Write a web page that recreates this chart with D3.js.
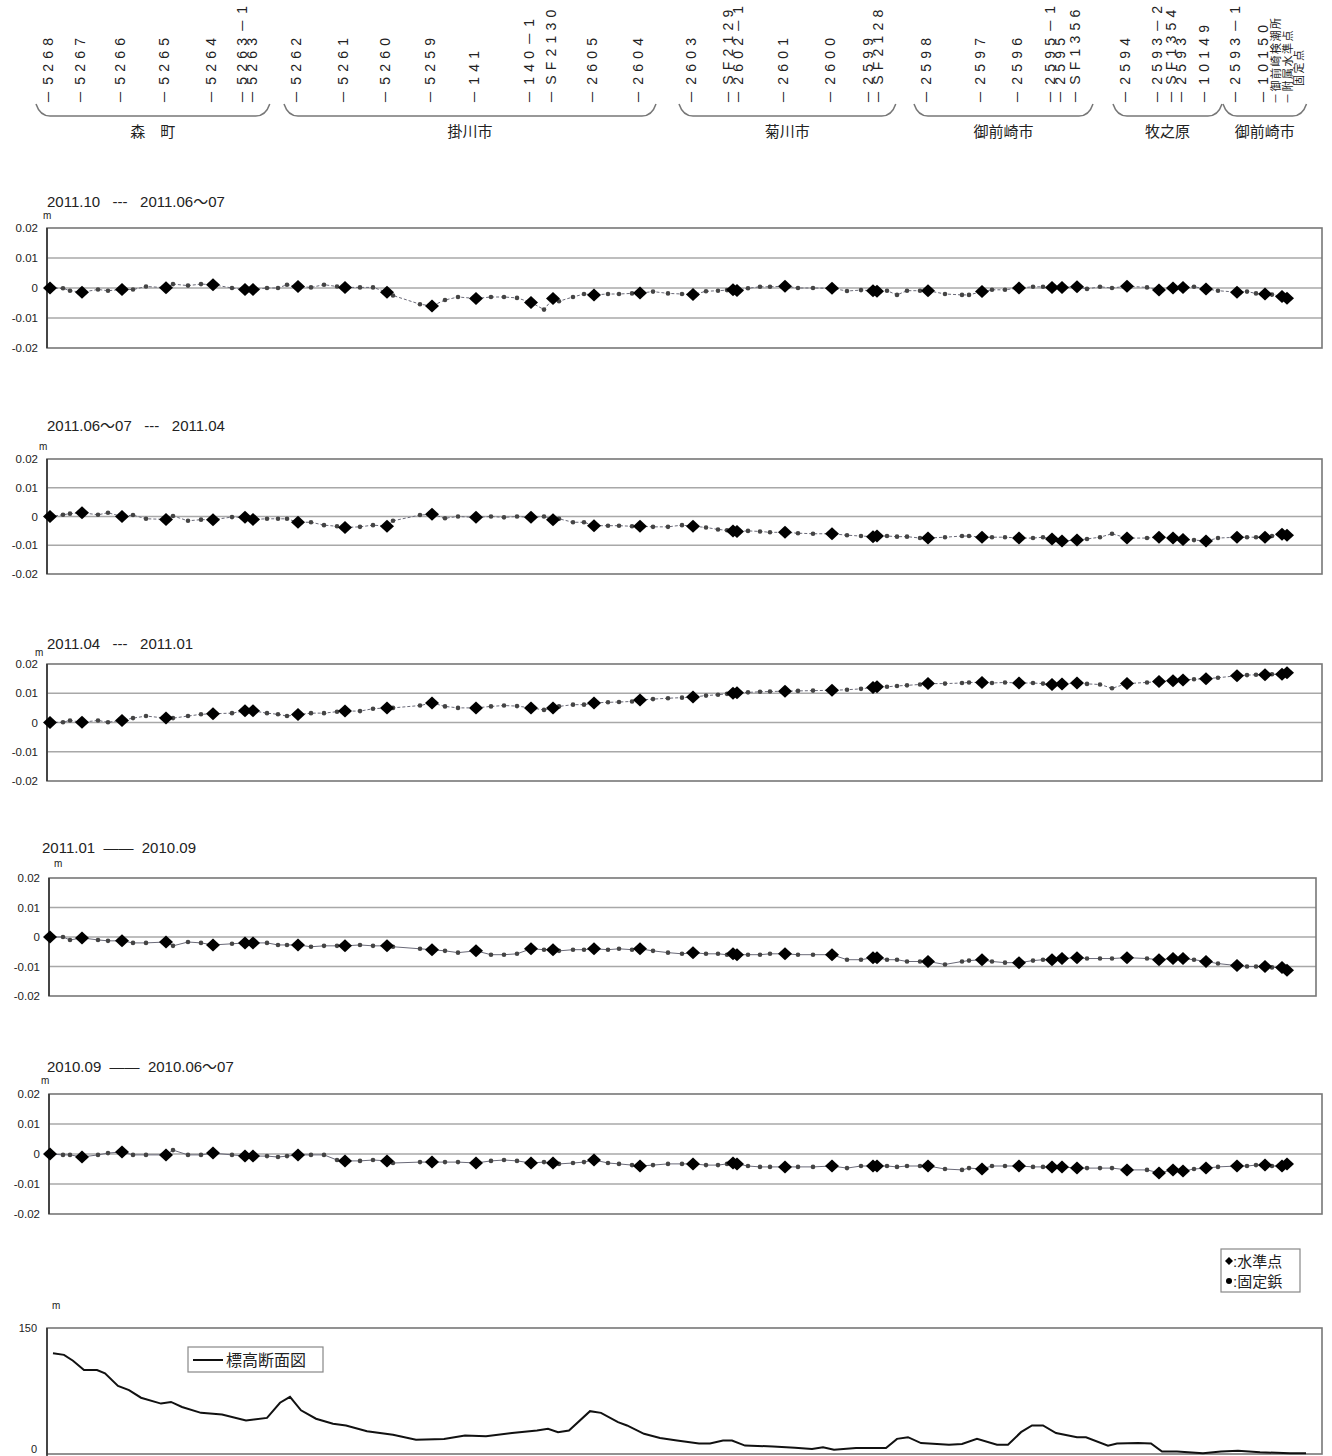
<!DOCTYPE html>
<html><head><meta charset="utf-8">
<script src="https://cdn.jsdelivr.net/npm/d3@7"></script>
<style>
body{margin:0;background:#fff}
svg{display:block}
text{font-family:"Liberation Sans",Arial,"Noto Sans CJK JP",sans-serif;fill:#222;white-space:pre}
.narrow{font-family:"Liberation Sans Narrow","Arial Narrow","Liberation Sans",sans-serif}
</style>
</head><body>
<svg id="c" width="1332" height="1456"></svg>
<script>
// ---------- DATA ----------
// distance along the levelling route (km)
const stationKm = [0,1.3,2.0,3.2,4.8,5.8,7.2,8.3,9.6,11.6,12.3,13.8,15.1,16.3,18.2,19.5,20.3,21.7,22.8,23.7,
24.8,26.1,27.4,28.7,29.5,31.0,32.3,33.7,34.3,37.0,38.2,39.5,40.8,42.6,44.1,45.4,46.7,48.1,49.4,50.3,
50.9,52.3,53.4,54.4,55.8,56.9,58.2,59.0,60.3,61.8,63.2,64.3,65.6,66.8,67.7,68.3,68.7,69.8,71.0,72.0,
73.5,74.8,76.3,78.2,79.7,81.1,82.3,82.7,83.7,84.7,85.7,87.0,87.8,89.5,91.2,91.9,93.2,94.2,95.5,96.9,
98.3,99.3,100.2,101.2,102.7,103.7,105.0,106.2,107.7,109.7,110.9,112.3,113.3,114.4,115.6,116.8,118.7,119.7,120.6,121.5,
122.2,123.2,123.7];
// station indices that are benchmarks (水準点); all others are fixed bolts (固定鋲)
const benchmarkIdx = [0,3,6,9,13,15,16,20,24,27,30,33,37,39,43,47,51,55,56,60,63,66,67,72,76,79,82,83,84,88,90,91,92,94,96,99,101,102];
const benchmarkNames = ["5268","5267","5266","5265","5264","5263－1","5263",
"5262","5261","5260","5259","141","140－1","SF2130","2605","2604",
"2603","SF2129","2602－1","2601","2600","2599","SF2128",
"2598","2597","2596","2595－1","2595","SF1356",
"2594","2593－2","SF1354","2593","10149",
"2593－1","10150","御前崎検潮所","附属水準点\n固定点"];
const townNames = ["森　町","掛川市","菊川市","御前崎市","牧之原","御前崎市"];
const townBenchmarkCount = [7,9,7,6,5,4];

const panelTitles = ["2011.10   ---   2011.06～07","2011.06～07   ---   2011.04","2011.04   ---   2011.01","2011.01  ――  2010.09","2010.09  ――  2010.06～07"];
const yTicks = [0.02,0.01,0,-0.01,-0.02];
const yTickLabels = ["0.02","0.01","0","-0.01","-0.02"];

// vertical change (m) per station
const dh2011_10 = [0,-0.0001,-0.0009,-0.0014,-0.0005,-0.0009,-0.0005,-0.0005,0.0005,0.0001,0.0013,0.0008,0.0013,0.0011,0,-0.0005,-0.0005,0,0,0.0011,
0.0005,0.0002,0.0011,0.0005,0.0002,0.0002,0.0002,-0.0014,-0.0025,-0.0054,-0.006,-0.004,-0.003,-0.0035,-0.003,-0.003,-0.0033,-0.0048,-0.0072,-0.0035,
-0.0044,-0.003,-0.002,-0.0023,-0.002,-0.002,-0.0018,-0.0017,-0.0012,-0.0018,-0.002,-0.0022,-0.0011,-0.0009,-0.0007,-0.0006,-0.0008,-0.0001,0.0004,0.0004,
0.0006,0,0,-0.0001,-0.001,-0.0007,-0.0009,-0.0011,-0.0009,-0.0023,-0.0009,-0.0009,-0.0009,-0.002,-0.0023,-0.0023,-0.0012,-0.0006,-0.0006,0,
0.0004,0.0004,0.0002,0.0002,0.0004,-0.0003,0.0004,0,0.0006,0.0002,-0.0007,0,0.0002,0.0004,-0.0003,-0.0009,-0.0014,-0.0012,-0.0018,-0.002,
-0.0022,-0.0028,-0.0034];
const dh2011_06 = [0,0.0006,0.001,0.0013,0.0006,0.0013,0,0.0005,-0.0008,-0.001,0.0002,-0.0015,-0.0011,-0.0011,-0.0002,-0.0003,-0.001,-0.0008,-0.0008,-0.0008,
-0.002,-0.002,-0.003,-0.0034,-0.0038,-0.0036,-0.003,-0.0034,-0.0015,0.0005,0.0008,-0.0006,0,-0.0003,0,-0.0003,0,-0.0003,0,-0.0011,
-0.0008,-0.002,-0.002,-0.0032,-0.0032,-0.0032,-0.0034,-0.0034,-0.0036,-0.0036,-0.003,-0.0034,-0.0038,-0.0045,-0.0048,-0.005,-0.0052,-0.005,-0.0052,-0.0055,
-0.0055,-0.0058,-0.006,-0.006,-0.0065,-0.0068,-0.007,-0.0068,-0.0068,-0.007,-0.007,-0.0075,-0.0075,-0.0072,-0.0068,-0.0068,-0.0072,-0.0072,-0.0072,-0.0075,
-0.0075,-0.0072,-0.0078,-0.0085,-0.0082,-0.0078,-0.0072,-0.006,-0.0075,-0.0075,-0.0072,-0.0075,-0.008,-0.0082,-0.0085,-0.0075,-0.0072,-0.0072,-0.0072,-0.0072,
-0.0068,-0.0062,-0.0065];
const dh2011_04 = [0,0.0001,0.0007,0.0001,0.0007,0.0001,0.0007,0.0015,0.0022,0.0015,0.0015,0.0022,0.0028,0.003,0.0032,0.004,0.004,0.0032,0.0028,0.0022,
0.0027,0.0032,0.0032,0.0037,0.0039,0.0039,0.0047,0.005,0.005,0.0058,0.0067,0.0055,0.005,0.005,0.0055,0.0058,0.0056,0.005,0.0043,0.005,
0.0055,0.0061,0.0061,0.0067,0.0069,0.007,0.0072,0.0077,0.008,0.0083,0.0085,0.0087,0.0092,0.0095,0.0098,0.01,0.0102,0.0103,0.0105,0.0106,
0.0107,0.0108,0.0109,0.011,0.0112,0.0115,0.012,0.0122,0.0122,0.0125,0.0127,0.013,0.0133,0.0133,0.0135,0.0137,0.0137,0.0135,0.0137,0.0135,
0.0135,0.0133,0.013,0.0132,0.0135,0.0132,0.013,0.0117,0.0133,0.0137,0.014,0.0143,0.0145,0.0148,0.015,0.0153,0.016,0.0162,0.0163,0.0163,
0.0165,0.0165,0.017];
const dh2011_01 = [0,0,-0.001,-0.0003,-0.001,-0.0013,-0.0013,-0.002,-0.002,-0.0017,-0.003,-0.0017,-0.002,-0.0027,-0.0023,-0.002,-0.002,-0.002,-0.0027,-0.0027,
-0.0027,-0.0033,-0.003,-0.003,-0.003,-0.0027,-0.003,-0.003,-0.0033,-0.004,-0.0043,-0.0047,-0.0053,-0.0047,-0.006,-0.006,-0.0057,-0.004,-0.0043,-0.0043,
-0.0047,-0.0043,-0.0043,-0.004,-0.0043,-0.004,-0.0043,-0.004,-0.0047,-0.0053,-0.0057,-0.0053,-0.0057,-0.0057,-0.006,-0.0057,-0.006,-0.006,-0.006,-0.0057,
-0.0057,-0.006,-0.006,-0.006,-0.0077,-0.0077,-0.007,-0.007,-0.0077,-0.0077,-0.0083,-0.0083,-0.0083,-0.0093,-0.0083,-0.008,-0.0077,-0.0083,-0.0087,-0.0087,
-0.008,-0.0077,-0.0077,-0.0073,-0.007,-0.0073,-0.0073,-0.0073,-0.007,-0.0073,-0.0077,-0.0073,-0.0073,-0.0077,-0.0083,-0.009,-0.0097,-0.01,-0.01,-0.01,
-0.0103,-0.0103,-0.0113];
const dh2010_09 = [0,-0.0003,-0.0003,-0.001,-0.0003,0.0003,0.0007,-0.0003,-0.0003,-0.0003,0.0013,-0.0003,-0.0003,0.0003,-0.0003,-0.0007,-0.0007,-0.0007,-0.001,-0.0007,
-0.0003,-0.0003,-0.0003,-0.002,-0.0023,-0.0023,-0.002,-0.0023,-0.003,-0.0027,-0.0027,-0.0027,-0.0027,-0.003,-0.0023,-0.002,-0.0023,-0.003,-0.0027,-0.003,
-0.0033,-0.003,-0.0027,-0.002,-0.003,-0.0033,-0.0037,-0.004,-0.0037,-0.0033,-0.0033,-0.0033,-0.0037,-0.0037,-0.0033,-0.003,-0.0033,-0.004,-0.0043,-0.0043,
-0.0043,-0.0043,-0.0043,-0.004,-0.0047,-0.004,-0.004,-0.004,-0.004,-0.0043,-0.004,-0.004,-0.004,-0.005,-0.0053,-0.0047,-0.005,-0.004,-0.004,-0.004,
-0.0043,-0.0043,-0.0043,-0.0043,-0.0047,-0.0047,-0.0047,-0.0047,-0.0053,-0.0053,-0.0063,-0.0053,-0.0057,-0.005,-0.0047,-0.0043,-0.004,-0.004,-0.0037,-0.0037,
-0.004,-0.004,-0.0033];
const panelSeries = [dh2011_10, dh2011_06, dh2011_04, dh2011_01, dh2010_09];

// elevation profile (標高断面図)
const elevKm = [0.3,1.4,2.3,3.4,4.7,5.5,6.8,7.9,9.1,11.1,12.1,13.2,15.1,17.2,19.6,21.7,23.0,24.0,25.1,26.6,
28.3,29.6,31.7,34.3,36.6,39.4,41.5,43.6,46.2,48.7,49.8,50.8,51.9,54.0,55.1,56.8,57.7,59.4,61.0,62.7,
64.9,66.0,67.3,68.2,69.5,72.3,74.5,76.2,77.3,78.4,80.6,83.6,84.7,85.8,87.1,89.9,91.2,92.7,94.7,95.8,
97.1,98.2,99.3,100.6,102.7,103.6,105.8,106.7,108.8,110.1,111.2,112.7,115.3,117.1,118.8,121.0,124.0,125.6];
const elevM = [120,118,111,100,100,96,81,76,67,60,62,56,49,47,40,43,61,68,52,42,
36,34,27,23,17,18,22,21,25,28,30,26,28,51,49,38,34,24,19,16,
12.5,12.5,16,16,10,9,7.5,6,8,5,7,7,18,20,13,11,12,18,11,11,
26,34,34,25,20,20,10,12.5,13,12.5,3,3,1,3,4,2,1,1];
const elevTicks = [150,0];
const legendItems = [":水準点",":固定鋲"];
const elevLegend = "標高断面図";

// ---------- LAYOUT ----------
const svg = d3.select("#c");
const panels = [
  {top:228,bottom:348,left:47,right:1322,titleX:47,titleY:207,mX:43,mY:219},
  {top:459,bottom:574,left:47,right:1322,titleX:47,titleY:431,mX:39,mY:450},
  {top:664,bottom:781,left:47,right:1322,titleX:47,titleY:649,mX:35,mY:656},
  {top:878,bottom:996,left:49,right:1316,titleX:42,titleY:853,mX:54,mY:867},
  {top:1094,bottom:1214,left:49,right:1322,titleX:47,titleY:1072,mX:41,mY:1084}
];
const x = d3.scaleLinear().domain([0,127.2]).range([50,1322]);
const isBM = new Set(benchmarkIdx);
const diamond = "M0,-6.5L7,0L0,6.5L-7,0Z";

// ---------- HEADER ----------
const hdr = svg.append("g");
const isCJK = s => /[\u3040-\u9fff]/.test(s);
let labelX = benchmarkIdx.map(i => x(stationKm[i]) - 2);
for (let k=1;k<labelX.length;k++){
  const gap = isCJK(benchmarkNames[k]) ? 12 : 9.5;
  if (labelX[k]-labelX[k-1] < gap){
    const mid=(labelX[k]+labelX[k-1])/2;
    labelX[k-1]=mid-gap/2; labelX[k]=mid+gap/2;
  }
}
benchmarkNames.forEach((name,k)=>{
  const lx = labelX[k], ly = 104;
  const cjk = isCJK(name);
  const t = hdr.append("text")
    .attr("transform",`translate(${lx},${ly}) rotate(-90)`)
    .attr("font-size", cjk?11:14)
    .attr("letter-spacing", cjk?1.5:5.2)
    .attr("fill","#333");
  name.split("\n").forEach((ln,j)=>{
    t.append("tspan").attr("x", j? 18:0).attr("dy", j? "0.95em":"0.36em").text((j?"":"－")+ln);
  });
});
// town braces
let start=0;
townNames.forEach((town,g)=>{
  const n=townBenchmarkCount[g];
  const x0 = labelX[start]-12, x1 = labelX[start+n-1]+18;
  start+=n;
  hdr.append("path")
    .attr("d",`M${x0},104 Q${x0+4},116 ${x0+14},116 L${x1-14},116 Q${x1-4},116 ${x1},104`)
    .attr("fill","none").attr("stroke","#777").attr("stroke-width",1.5);
  hdr.append("text").attr("x",(x0+x1)/2).attr("y",137).attr("text-anchor","middle")
    .attr("font-size",15).attr("fill","#111").text(town);
});

// ---------- DISPLACEMENT PANELS ----------
panels.forEach((p,pi)=>{
  const g = svg.append("g");
  const y = d3.scaleLinear().domain([-0.02,0.02]).range([p.bottom,p.top]);
  g.append("text").attr("x",p.titleX).attr("y",p.titleY).attr("font-size",15)
    .attr("fill","#222").text(panelTitles[pi]);
  g.append("text").attr("x",p.mX).attr("y",p.mY).attr("font-size",10).attr("fill","#333").text("m");
  yTicks.filter(v=>v!==0.02 && v!==-0.02).forEach(v=>{
    g.append("line").attr("x1",p.left).attr("x2",p.right).attr("y1",y(v)).attr("y2",y(v))
      .attr("stroke","#a8a8a8").attr("stroke-width",1.3);
  });
  g.append("rect").attr("x",p.left).attr("y",p.top).attr("width",p.right-p.left).attr("height",p.bottom-p.top)
    .attr("fill","none").attr("stroke","#777").attr("stroke-width",1.6);
  g.append("line").attr("x1",p.left).attr("x2",p.left).attr("y1",p.top).attr("y2",p.bottom)
    .attr("stroke","#333").attr("stroke-width",1.6);
  yTicks.forEach((v,i)=>{
    g.append("text").attr("x",p.left-9).attr("y",y(v)+4).attr("text-anchor","end")
      .attr("font-size",11.5).attr("class","narrow").attr("fill","#222").text(yTickLabels[i]);
  });
  const data = panelSeries[pi];
  const line = d3.line().x((d,i)=>x(stationKm[i])).y(d=>y(d));
  g.append("path").attr("d",line(data)).attr("fill","none").attr("stroke","#6a6a78")
    .attr("stroke-width",1).attr("stroke-dasharray", pi<3 ? "3,2" : null);
  data.forEach((v,i)=>{
    if(!isBM.has(i)) g.append("circle").attr("cx",x(stationKm[i])).attr("cy",y(v)).attr("r",2.3).attr("fill","#444");
  });
  data.forEach((v,i)=>{
    if(isBM.has(i)) g.append("path").attr("d",diamond)
      .attr("transform",`translate(${x(stationKm[i])},${y(v)})`).attr("fill","#000");
  });
});

// ---------- LEGEND ----------
const lg = svg.append("g");
lg.append("rect").attr("x",1221).attr("y",1249).attr("width",79).attr("height",43)
  .attr("fill","#fff").attr("stroke","#888").attr("stroke-width",1.2);
lg.append("path").attr("d","M0,-4L4,0L0,4L-4,0Z").attr("transform","translate(1229,1261)").attr("fill","#000");
lg.append("circle").attr("cx",1229).attr("cy",1281).attr("r",3).attr("fill","#000");
legendItems.forEach((t,i)=>{
  lg.append("text").attr("x",1233).attr("y",1267+i*20).attr("font-size",15).attr("fill","#111").text(t);
});

// ---------- ELEVATION PROFILE ----------
const eg = svg.append("g");
const ey = d3.scaleLinear().domain([0,150]).range([1454,1328]);
eg.append("rect").attr("x",47).attr("y",1328).attr("width",1275).attr("height",126)
  .attr("fill","none").attr("stroke","#777").attr("stroke-width",1.6);
eg.append("line").attr("x1",47).attr("x2",47).attr("y1",1328).attr("y2",1456).attr("stroke","#333").attr("stroke-width",1.6);
eg.append("text").attr("x",52).attr("y",1309).attr("font-size",10).attr("fill","#333").text("m");
elevTicks.forEach(v=>{
  eg.append("text").attr("x",37).attr("y",Math.min(ey(v)+4,1453)).attr("text-anchor","end").attr("font-size",11)
    .attr("class","narrow").attr("fill","#222").text(v);
});
const eline = d3.line().x((d,i)=>x(elevKm[i])).y(d=>ey(d));
eg.append("path").attr("d",eline(elevM)).attr("fill","none").attr("stroke","#111").attr("stroke-width",2);
eg.append("rect").attr("x",188).attr("y",1347).attr("width",135).attr("height",25)
  .attr("fill","#fff").attr("stroke","#888").attr("stroke-width",1.2);
eg.append("line").attr("x1",193).attr("x2",223).attr("y1",1360).attr("y2",1360).attr("stroke","#111").attr("stroke-width",2);
eg.append("text").attr("x",226).attr("y",1366).attr("font-size",16).attr("fill","#111").text(elevLegend);
</script>
</body></html>
